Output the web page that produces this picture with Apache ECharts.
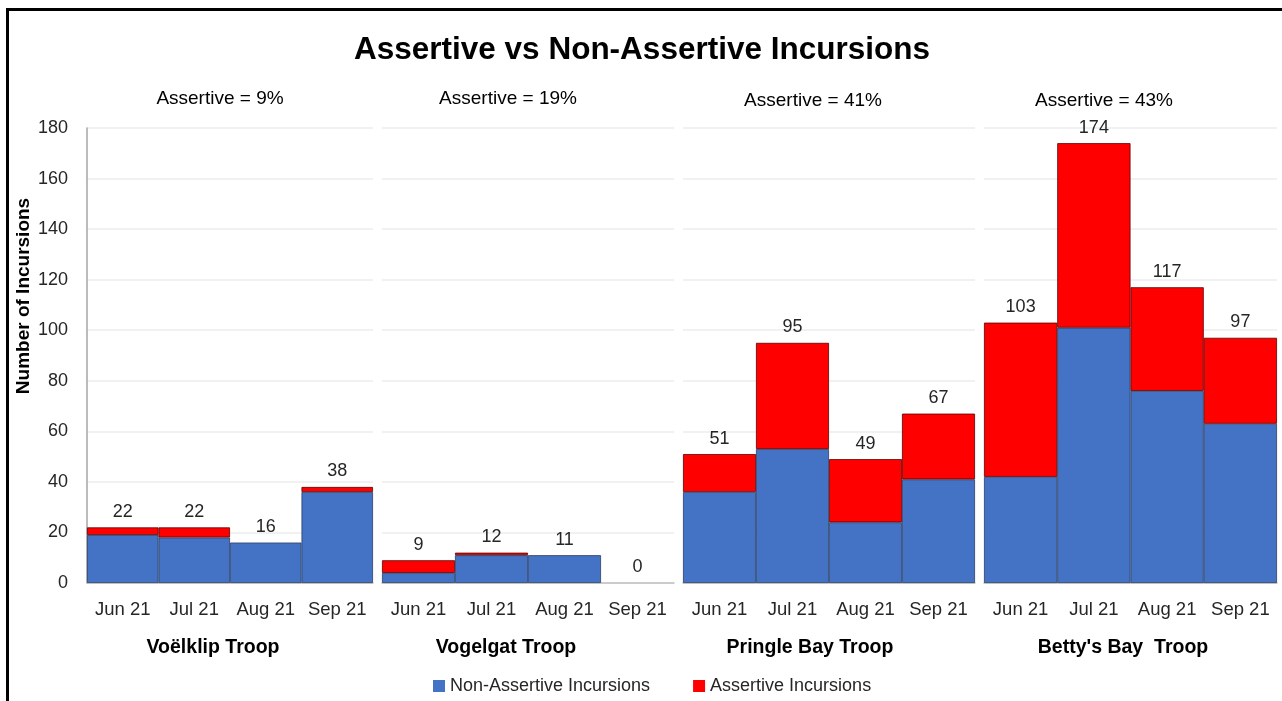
<!DOCTYPE html>
<html>
<head>
<meta charset="utf-8">
<title>Assertive vs Non-Assertive Incursions</title>
<script src="https://cdn.jsdelivr.net/npm/echarts@6/dist/echarts.min.js"></script>
<style>
  html, body { margin: 0; padding: 0; background: #fff; }
  #chart { width: 1282px; height: 701px; }
</style>
</head>
<body>
<div id="chart"></div>
<script>
// Monthly incursions per troop, split into non-assertive and assertive
const months = ['Jun 21', 'Jul 21', 'Aug 21', 'Sep 21'];
const troops = ['Voëlklip Troop', 'Vogelgat Troop', 'Pringle Bay Troop', "Betty's Bay  Troop"];
const nonAssertive = [
  [19, 18, 16, 36],
  [4, 11, 11, 0],
  [36, 53, 24, 41],
  [42, 101, 76, 63]
];
const assertive = [
  [3, 4, 0, 2],
  [5, 1, 0, 0],
  [15, 42, 25, 26],
  [61, 73, 41, 34]
];
const yTicks = { min: 0, max: 180, interval: 20 };

const FONT = '"Liberation Sans", Arial, sans-serif';
const BLUE = '#4472C4';
const RED = '#FF0000';

// panel placement (one grid per troop)
const panelLeft = [87, 382, 683, 984];
const panelWidth = [286, 292, 292, 293];
const panelTop = 128;
const panelHeight = 455;
const subtitleX = [220, 508, 813, 1104];
const subtitleY = [99, 99, 101, 101];
const troopX = [213, 506, 810, 1123];

const totals = nonAssertive.map((arr, i) => arr.map((v, j) => v + assertive[i][j]));
const pct = nonAssertive.map((arr, i) => {
  const a = assertive[i].reduce((s, v) => s + v, 0);
  const t = totals[i].reduce((s, v) => s + v, 0);
  return Math.round(a / t * 100) + '%';
});

// empty segments get no outline
const toItems = (arr) => arr.map(v => v === 0 ? { value: 0, itemStyle: { borderWidth: 0, opacity: 0 } } : v);

const grids = [], xAxes = [], yAxes = [], series = [];
troops.forEach((t, i) => {
  grids.push({ left: panelLeft[i], top: panelTop, width: panelWidth[i], height: panelHeight, containLabel: false });
  xAxes.push({
    type: 'category', gridIndex: i, data: months,
    axisLine: { show: true, lineStyle: { color: '#bfbfbf', width: 1.5 } },
    axisTick: { show: false },
    axisLabel: { interval: 0, color: '#262626', fontFamily: FONT, fontSize: 18.5, margin: 17 }
  });
  yAxes.push({
    type: 'value', gridIndex: i, min: yTicks.min, max: yTicks.max, interval: yTicks.interval,
    axisLine: { show: i === 0, lineStyle: { color: '#a6a6a6', width: 1.5 } },
    axisTick: { show: false },
    axisLabel: { show: i === 0, color: '#262626', fontFamily: FONT, fontSize: 18, margin: 19 },
    splitLine: { show: true, lineStyle: { color: '#ececec', width: 1.5 } }
  });
  series.push({
    name: 'Non-Assertive Incursions', type: 'bar', stack: 's' + i,
    xAxisIndex: i, yAxisIndex: i, data: toItems(nonAssertive[i]),
    barCategoryGap: 0, barWidth: '100%',
    itemStyle: { color: BLUE, borderColor: '#2b3f66', borderWidth: 0.8 }
  });
  series.push({
    name: 'Assertive Incursions', type: 'bar', stack: 's' + i,
    xAxisIndex: i, yAxisIndex: i, data: toItems(assertive[i]),
    barCategoryGap: 0, barWidth: '100%',
    itemStyle: { color: RED, borderColor: '#5a0000', borderWidth: 0.8 }
  });
  // totals shown above each stack
  series.push({
    name: 'Total', type: 'line', xAxisIndex: i, yAxisIndex: i, data: totals[i],
    symbol: 'circle', symbolSize: 1, showSymbol: true,
    itemStyle: { color: 'rgba(0,0,0,0)' },
    lineStyle: { width: 0, opacity: 0 }, silent: true, z: 5,
    label: { show: true, position: 'top', distance: 6, color: '#262626', fontFamily: FONT, fontSize: 18 }
  });
});

const graphic = [
  // outer frame
  { type: 'rect', shape: { x: 7.5, y: 9.5, width: 1300, height: 720 },
    style: { fill: 'none', stroke: '#000', lineWidth: 3 }, silent: true },
  { type: 'text', x: 642, y: 50,
    style: { text: 'Assertive vs Non-Assertive Incursions', font: 'bold 31.5px ' + FONT,
      fill: '#000', textAlign: 'center', textVerticalAlign: 'middle' } },
  { type: 'text', x: 24, y: 296, rotation: Math.PI / 2,
    style: { text: 'Number of Incursions', font: 'bold 19px ' + FONT,
      fill: '#000', textAlign: 'center', textVerticalAlign: 'middle' } }
];
troops.forEach((t, i) => {
  graphic.push({ type: 'text', x: subtitleX[i], y: subtitleY[i],
    style: { text: 'Assertive = ' + pct[i], font: '19px ' + FONT, fill: '#000',
      textAlign: 'center', textVerticalAlign: 'middle' } });
  graphic.push({ type: 'text', x: troopX[i], y: 648,
    style: { text: t, font: 'bold 19.5px ' + FONT, fill: '#000',
      textAlign: 'center', textVerticalAlign: 'middle' } });
});

const chart = echarts.init(document.getElementById('chart'), null, { renderer: 'canvas' });
chart.setOption({
  animation: false,
  backgroundColor: '#fff',
  grid: grids,
  xAxis: xAxes,
  yAxis: yAxes,
  series: series,
  legend: {
    data: ['Non-Assertive Incursions', 'Assertive Incursions'],
    left: 428, top: 672, icon: 'rect', itemWidth: 12, itemHeight: 12, itemGap: 43,
    itemStyle: { borderWidth: 0 },
    textStyle: { color: '#262626', fontFamily: FONT, fontSize: 18 }
  },
  graphic: graphic
});
</script>
</body>
</html>
